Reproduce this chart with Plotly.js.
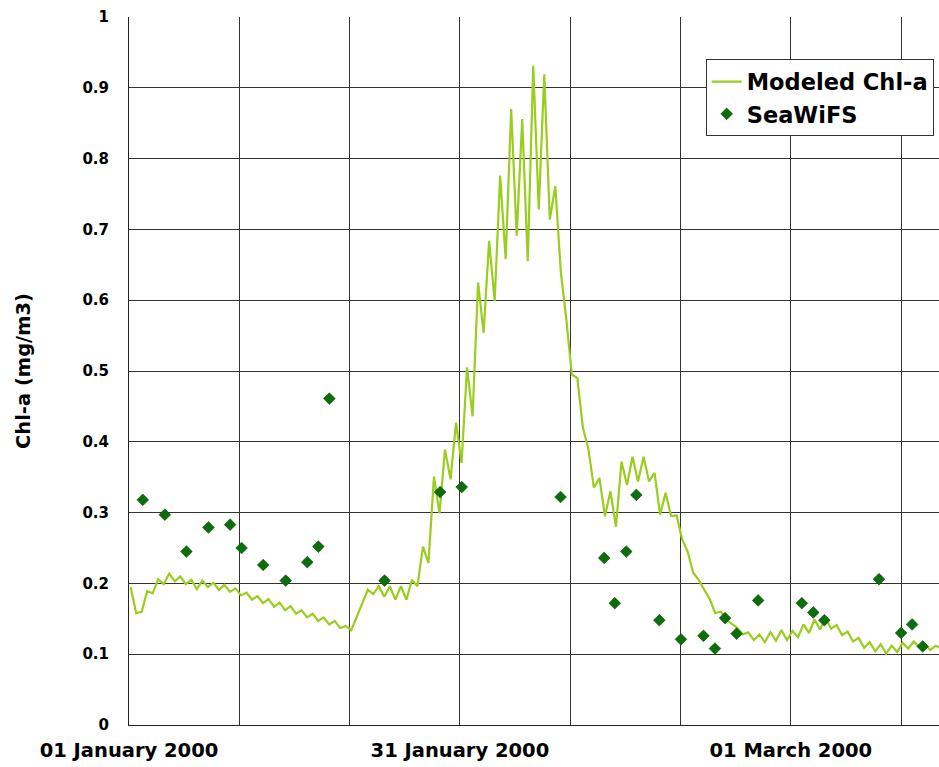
<!DOCTYPE html>
<html>
<head>
<meta charset="utf-8">
<script src="https://cdn.plot.ly/plotly-3.0.1.min.js"></script>
<style>
html, body { margin: 0; padding: 0; background: #ffffff; }
#chart { width: 939px; height: 767px; }
</style>
</head>
<body>
<div id="chart"></div>
<script>
// Modeled Chl-a: sampled every 12 hours starting 2000-01-01 03:36
const modelStart = [2000, 0, 1, 3, 36];
const modelStepHours = 12;
const modelValues = [
  0.195, 0.158, 0.160, 0.189, 0.186, 0.206, 0.199, 0.214, 0.203, 0.210,
  0.199, 0.205, 0.192, 0.204, 0.195, 0.201, 0.191, 0.198, 0.188, 0.193,
  0.183, 0.187, 0.177, 0.182, 0.172, 0.178, 0.167, 0.173, 0.162, 0.168,
  0.157, 0.162, 0.152, 0.157, 0.147, 0.152, 0.142, 0.147, 0.137, 0.140,
  0.134, 0.153, 0.172, 0.191, 0.185, 0.196, 0.181, 0.196, 0.177, 0.196,
  0.177, 0.205, 0.196, 0.252, 0.229, 0.351, 0.299, 0.389, 0.347, 0.427,
  0.370, 0.505, 0.436, 0.625, 0.554, 0.684, 0.599, 0.776, 0.658, 0.870,
  0.691, 0.856, 0.655, 0.931, 0.728, 0.919, 0.714, 0.761, 0.640, 0.573,
  0.495, 0.490, 0.420, 0.390, 0.335, 0.349, 0.295, 0.330, 0.280, 0.372,
  0.339, 0.379, 0.344, 0.379, 0.344, 0.356, 0.297, 0.328, 0.295, 0.296,
  0.262, 0.245, 0.215, 0.205, 0.191, 0.178, 0.158, 0.160, 0.149, 0.143,
  0.137, 0.128, 0.131, 0.120, 0.128, 0.117, 0.131, 0.119, 0.134, 0.120,
  0.133, 0.124, 0.142, 0.130, 0.149, 0.135, 0.151, 0.136, 0.141, 0.127,
  0.132, 0.118, 0.123, 0.109, 0.117, 0.104, 0.114, 0.101, 0.112, 0.103,
  0.116, 0.108, 0.118, 0.110, 0.115, 0.106, 0.112, 0.108
];

// SeaWiFS observations
const seawifsDates = [
  '2000-01-02 06:00', '2000-01-04 06:00', '2000-01-06 05:00', '2000-01-08 05:00',
  '2000-01-10 04:00', '2000-01-11 05:00', '2000-01-13 04:00', '2000-01-15 05:00',
  '2000-01-17 04:00', '2000-01-18 04:00', '2000-01-19 04:00', '2000-01-24 04:00',
  '2000-01-29 05:00', '2000-01-31 04:00', '2000-02-09 03:00', '2000-02-13 02:00',
  '2000-02-14 01:00', '2000-02-15 02:00', '2000-02-16 00:00', '2000-02-18 02:00',
  '2000-02-20 01:00', '2000-02-22 02:00', '2000-02-23 03:00', '2000-02-24 01:00',
  '2000-02-25 02:00', '2000-02-27 01:00', '2000-03-02 00:00', '2000-03-03 01:00',
  '2000-03-04 01:00', '2000-03-09 00:00', '2000-03-11 00:00', '2000-03-12 00:00',
  '2000-03-12 23:00'
];
const seawifsValues = [
  0.318, 0.297, 0.245, 0.279, 0.283, 0.250, 0.226, 0.204, 0.230, 0.252,
  0.461, 0.204, 0.329, 0.336, 0.322, 0.236, 0.172, 0.245, 0.325, 0.148,
  0.121, 0.126, 0.108, 0.151, 0.129, 0.176, 0.172, 0.159, 0.148, 0.206,
  0.130, 0.142, 0.111
];

// Axis ticks
const xTickDates = ['2000-01-01', '2000-01-11', '2000-01-21', '2000-01-31',
                    '2000-02-10', '2000-02-20', '2000-03-01', '2000-03-11'];
const xTickLabels = ['01 January 2000', '', '', '31 January 2000',
                     '', '', '01 March 2000', ''];
const xRange = ['2000-01-01 00:00', '2000-03-14 10:30'];

const t0 = Date.UTC(modelStart[0], modelStart[1], modelStart[2], modelStart[3], modelStart[4]);
const modelX = modelValues.map((v, i) => t0 + i * modelStepHours * 3600000);

const FONT = 'DejaVu Sans, Verdana, sans-serif';

const traces = [
  {
    type: 'scatter', mode: 'lines', name: 'Modeled Chl-a',
    x: modelX, y: modelValues,
    line: { color: '#9acd1e', width: 2.2 }
  },
  {
    type: 'scatter', mode: 'markers', name: 'SeaWiFS',
    x: seawifsDates, y: seawifsValues,
    marker: { symbol: 'diamond', size: 9, color: '#0b6e0b',
              line: { color: '#055005', width: 0.6 } }
  }
];

const layout = {
  width: 939, height: 767,
  margin: { l: 129, r: 0, t: 17, b: 42 },
  paper_bgcolor: '#ffffff', plot_bgcolor: '#ffffff',
  showlegend: true,
  legend: {
    x: 0.712, y: 0.94, xanchor: 'left', yanchor: 'top',
    bgcolor: '#ffffff', bordercolor: '#333333', borderwidth: 1,
    font: { family: FONT, size: 22.5, color: '#000000', weight: 'bold' },
    tracegroupgap: 0
  },
  xaxis: {
    type: 'date', range: xRange,
    tickmode: 'array', tickvals: xTickDates, ticktext: xTickLabels,
    showgrid: true, gridcolor: '#333333', gridwidth: 1,
    showline: true, linecolor: '#222222', linewidth: 1,
    ticks: '', ticklabelstandoff: 8,
    zeroline: false,
    tickfont: { family: FONT, size: 19.5, color: '#000000', weight: 'bold' }
  },
  yaxis: {
    range: [0, 1], dtick: 0.1, tick0: 0,
    showgrid: true, gridcolor: '#333333', gridwidth: 1,
    showline: true, linecolor: '#222222', linewidth: 1,
    ticks: '', ticklabelstandoff: 16,
    zeroline: false,
    tickfont: { family: FONT, size: 15, color: '#000000', weight: 'bold' },
    title: { text: 'Chl-a (mg/m3)', standoff: 46,
             font: { family: FONT, size: 19.5, color: '#000000', weight: 'bold' } }
  }
};

Plotly.newPlot('chart', traces, layout, { displayModeBar: false, staticPlot: true });
</script>
</body>
</html>
